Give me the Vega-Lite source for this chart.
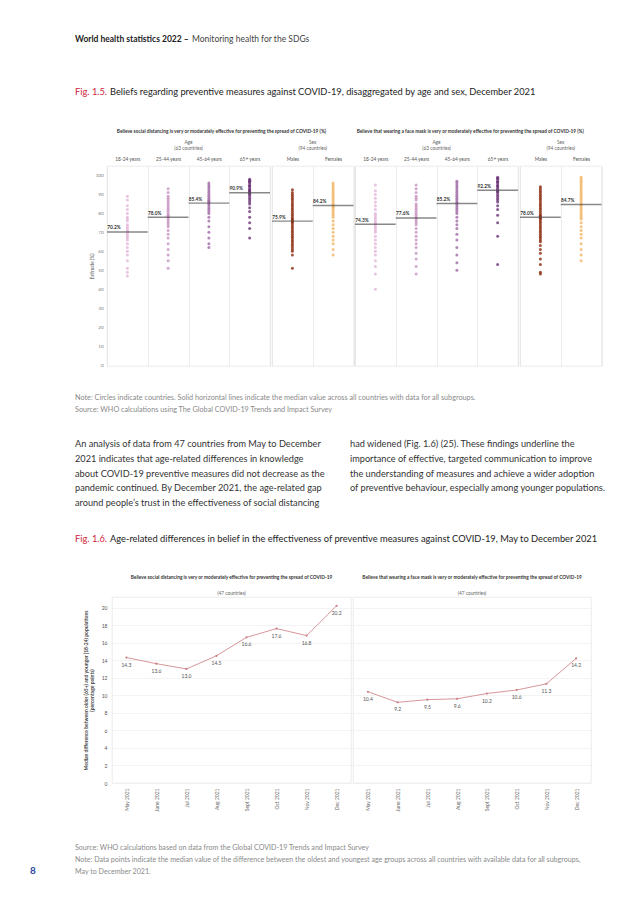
{
"$schema": "https://vega.github.io/schema/vega-lite/v6.json",
"padding": {"left": 30, "top": 35, "right": 10, "bottom": 10},
"background": "white",
"title": {"text": "8", "orient": "bottom", "anchor": "start", "dx": -45, "offset": -10, "fontSize": 10, "fontWeight": "bold", "color": "#2b4aa0"},
"datasets": {
"med": [
{"m":"SD","g":"18-24 years","v":70.2,"lab":"70.2%"},{"m":"SD","g":"25-44 years","v":78.0,"lab":"78.0%"},{"m":"SD","g":"45-64 years","v":85.4,"lab":"85.4%"},{"m":"SD","g":"65+ years","v":90.9,"lab":"90.9%"},{"m":"SD","g":"Males","v":75.9,"lab":"75.9%"},{"m":"SD","g":"Females","v":84.2,"lab":"84.2%"},
{"m":"FM","g":"18-24 years","v":74.3,"lab":"74.3%"},{"m":"FM","g":"25-44 years","v":77.6,"lab":"77.6%"},{"m":"FM","g":"45-64 years","v":85.2,"lab":"85.2%"},{"m":"FM","g":"65+ years","v":92.2,"lab":"92.2%"},{"m":"FM","g":"Males","v":78.0,"lab":"78.0%"},{"m":"FM","g":"Females","v":84.7,"lab":"84.7%"}
],
"trend": [
{"m":"SD","month":"May 2021","v":14.3},{"m":"SD","month":"June 2021","v":13.6},{"m":"SD","month":"Jul 2021","v":13.0},{"m":"SD","month":"Aug 2021","v":14.5},{"m":"SD","month":"Sept 2021","v":16.6},{"m":"SD","month":"Oct 2021","v":17.6},{"m":"SD","month":"Nov 2021","v":16.8},{"m":"SD","month":"Dec 2021","v":20.2},
{"m":"FM","month":"May 2021","v":10.4},{"m":"FM","month":"June 2021","v":9.2},{"m":"FM","month":"Jul 2021","v":9.5},{"m":"FM","month":"Aug 2021","v":9.6},{"m":"FM","month":"Sept 2021","v":10.2},{"m":"FM","month":"Oct 2021","v":10.6},{"m":"FM","month":"Nov 2021","v":11.3},{"m":"FM","month":"Dec 2021","v":14.2}
],
"pts": [
{"m":"SD","g":"18-24 years","v":89},{"m":"SD","g":"18-24 years","v":87},{"m":"SD","g":"18-24 years","v":84},{"m":"SD","g":"18-24 years","v":82},{"m":"SD","g":"18-24 years","v":80},{"m":"SD","g":"18-24 years","v":78},{"m":"SD","g":"18-24 years","v":77},{"m":"SD","g":"18-24 years","v":76},{"m":"SD","g":"18-24 years","v":74},{"m":"SD","g":"18-24 years","v":73},{"m":"SD","g":"18-24 years","v":72},{"m":"SD","g":"18-24 years","v":71},{"m":"SD","g":"18-24 years","v":70.5},{"m":"SD","g":"18-24 years","v":70},{"m":"SD","g":"18-24 years","v":69},{"m":"SD","g":"18-24 years","v":68},{"m":"SD","g":"18-24 years","v":67},{"m":"SD","g":"18-24 years","v":66},{"m":"SD","g":"18-24 years","v":64},{"m":"SD","g":"18-24 years","v":62},{"m":"SD","g":"18-24 years","v":60},{"m":"SD","g":"18-24 years","v":58},{"m":"SD","g":"18-24 years","v":55},{"m":"SD","g":"18-24 years","v":51},{"m":"SD","g":"18-24 years","v":49},{"m":"SD","g":"18-24 years","v":47},
{"m":"SD","g":"25-44 years","v":93},{"m":"SD","g":"25-44 years","v":91},{"m":"SD","g":"25-44 years","v":89},{"m":"SD","g":"25-44 years","v":88},{"m":"SD","g":"25-44 years","v":87},{"m":"SD","g":"25-44 years","v":86},{"m":"SD","g":"25-44 years","v":85},{"m":"SD","g":"25-44 years","v":84},{"m":"SD","g":"25-44 years","v":83},{"m":"SD","g":"25-44 years","v":82},{"m":"SD","g":"25-44 years","v":81},{"m":"SD","g":"25-44 years","v":80},{"m":"SD","g":"25-44 years","v":79},{"m":"SD","g":"25-44 years","v":78.5},{"m":"SD","g":"25-44 years","v":78},{"m":"SD","g":"25-44 years","v":77},{"m":"SD","g":"25-44 years","v":76},{"m":"SD","g":"25-44 years","v":75},{"m":"SD","g":"25-44 years","v":74},{"m":"SD","g":"25-44 years","v":73},{"m":"SD","g":"25-44 years","v":71},{"m":"SD","g":"25-44 years","v":69},{"m":"SD","g":"25-44 years","v":67},{"m":"SD","g":"25-44 years","v":64},{"m":"SD","g":"25-44 years","v":61},{"m":"SD","g":"25-44 years","v":58},{"m":"SD","g":"25-44 years","v":55},{"m":"SD","g":"25-44 years","v":51},
{"m":"SD","g":"45-64 years","v":96},{"m":"SD","g":"45-64 years","v":95},{"m":"SD","g":"45-64 years","v":94},{"m":"SD","g":"45-64 years","v":93},{"m":"SD","g":"45-64 years","v":92},{"m":"SD","g":"45-64 years","v":91},{"m":"SD","g":"45-64 years","v":90},{"m":"SD","g":"45-64 years","v":89},{"m":"SD","g":"45-64 years","v":88},{"m":"SD","g":"45-64 years","v":87},{"m":"SD","g":"45-64 years","v":86.5},{"m":"SD","g":"45-64 years","v":86},{"m":"SD","g":"45-64 years","v":85.5},{"m":"SD","g":"45-64 years","v":85},{"m":"SD","g":"45-64 years","v":84},{"m":"SD","g":"45-64 years","v":83},{"m":"SD","g":"45-64 years","v":82},{"m":"SD","g":"45-64 years","v":81},{"m":"SD","g":"45-64 years","v":80},{"m":"SD","g":"45-64 years","v":78},{"m":"SD","g":"45-64 years","v":76},{"m":"SD","g":"45-64 years","v":73},{"m":"SD","g":"45-64 years","v":70},{"m":"SD","g":"45-64 years","v":67},{"m":"SD","g":"45-64 years","v":64},{"m":"SD","g":"45-64 years","v":62},
{"m":"SD","g":"65+ years","v":98},{"m":"SD","g":"65+ years","v":97.5},{"m":"SD","g":"65+ years","v":97},{"m":"SD","g":"65+ years","v":96.5},{"m":"SD","g":"65+ years","v":96},{"m":"SD","g":"65+ years","v":95},{"m":"SD","g":"65+ years","v":94.5},{"m":"SD","g":"65+ years","v":94},{"m":"SD","g":"65+ years","v":93},{"m":"SD","g":"65+ years","v":92.5},{"m":"SD","g":"65+ years","v":92},{"m":"SD","g":"65+ years","v":91.5},{"m":"SD","g":"65+ years","v":91},{"m":"SD","g":"65+ years","v":90.5},{"m":"SD","g":"65+ years","v":90},{"m":"SD","g":"65+ years","v":89},{"m":"SD","g":"65+ years","v":88},{"m":"SD","g":"65+ years","v":87},{"m":"SD","g":"65+ years","v":86},{"m":"SD","g":"65+ years","v":85},{"m":"SD","g":"65+ years","v":83},{"m":"SD","g":"65+ years","v":81},{"m":"SD","g":"65+ years","v":78},{"m":"SD","g":"65+ years","v":75},{"m":"SD","g":"65+ years","v":72},{"m":"SD","g":"65+ years","v":67},
{"m":"SD","g":"Males","v":92.5},{"m":"SD","g":"Males","v":91},{"m":"SD","g":"Males","v":90},{"m":"SD","g":"Males","v":89},{"m":"SD","g":"Males","v":88},{"m":"SD","g":"Males","v":87},{"m":"SD","g":"Males","v":86},{"m":"SD","g":"Males","v":85},{"m":"SD","g":"Males","v":84},{"m":"SD","g":"Males","v":83},{"m":"SD","g":"Males","v":82},{"m":"SD","g":"Males","v":81},{"m":"SD","g":"Males","v":80},{"m":"SD","g":"Males","v":79},{"m":"SD","g":"Males","v":78},{"m":"SD","g":"Males","v":77},{"m":"SD","g":"Males","v":76.5},{"m":"SD","g":"Males","v":76},{"m":"SD","g":"Males","v":75.5},{"m":"SD","g":"Males","v":75},{"m":"SD","g":"Males","v":74},{"m":"SD","g":"Males","v":73},{"m":"SD","g":"Males","v":72},{"m":"SD","g":"Males","v":71},{"m":"SD","g":"Males","v":70},{"m":"SD","g":"Males","v":69},{"m":"SD","g":"Males","v":68},{"m":"SD","g":"Males","v":67},{"m":"SD","g":"Males","v":66},{"m":"SD","g":"Males","v":65},{"m":"SD","g":"Males","v":64},{"m":"SD","g":"Males","v":63},{"m":"SD","g":"Males","v":62},{"m":"SD","g":"Males","v":61},{"m":"SD","g":"Males","v":60},{"m":"SD","g":"Males","v":58},{"m":"SD","g":"Males","v":51},
{"m":"SD","g":"Females","v":96},{"m":"SD","g":"Females","v":95},{"m":"SD","g":"Females","v":94},{"m":"SD","g":"Females","v":93},{"m":"SD","g":"Females","v":92},{"m":"SD","g":"Females","v":91},{"m":"SD","g":"Females","v":90},{"m":"SD","g":"Females","v":89},{"m":"SD","g":"Females","v":88},{"m":"SD","g":"Females","v":87},{"m":"SD","g":"Females","v":86},{"m":"SD","g":"Females","v":85},{"m":"SD","g":"Females","v":84.5},{"m":"SD","g":"Females","v":84},{"m":"SD","g":"Females","v":83.5},{"m":"SD","g":"Females","v":83},{"m":"SD","g":"Females","v":82},{"m":"SD","g":"Females","v":81},{"m":"SD","g":"Females","v":80},{"m":"SD","g":"Females","v":79},{"m":"SD","g":"Females","v":78},{"m":"SD","g":"Females","v":76},{"m":"SD","g":"Females","v":74},{"m":"SD","g":"Females","v":72},{"m":"SD","g":"Females","v":70},{"m":"SD","g":"Females","v":68},{"m":"SD","g":"Females","v":66},{"m":"SD","g":"Females","v":64},{"m":"SD","g":"Females","v":61},{"m":"SD","g":"Females","v":58},
{"m":"FM","g":"18-24 years","v":95},{"m":"FM","g":"18-24 years","v":92},{"m":"FM","g":"18-24 years","v":90},{"m":"FM","g":"18-24 years","v":88},{"m":"FM","g":"18-24 years","v":86},{"m":"FM","g":"18-24 years","v":84},{"m":"FM","g":"18-24 years","v":82},{"m":"FM","g":"18-24 years","v":80},{"m":"FM","g":"18-24 years","v":79},{"m":"FM","g":"18-24 years","v":78},{"m":"FM","g":"18-24 years","v":77},{"m":"FM","g":"18-24 years","v":76},{"m":"FM","g":"18-24 years","v":75},{"m":"FM","g":"18-24 years","v":74.5},{"m":"FM","g":"18-24 years","v":74},{"m":"FM","g":"18-24 years","v":73},{"m":"FM","g":"18-24 years","v":72},{"m":"FM","g":"18-24 years","v":71},{"m":"FM","g":"18-24 years","v":70},{"m":"FM","g":"18-24 years","v":68},{"m":"FM","g":"18-24 years","v":66},{"m":"FM","g":"18-24 years","v":64},{"m":"FM","g":"18-24 years","v":62},{"m":"FM","g":"18-24 years","v":60},{"m":"FM","g":"18-24 years","v":58},{"m":"FM","g":"18-24 years","v":55},{"m":"FM","g":"18-24 years","v":52},{"m":"FM","g":"18-24 years","v":48},{"m":"FM","g":"18-24 years","v":40},
{"m":"FM","g":"25-44 years","v":95},{"m":"FM","g":"25-44 years","v":93},{"m":"FM","g":"25-44 years","v":91},{"m":"FM","g":"25-44 years","v":89},{"m":"FM","g":"25-44 years","v":88},{"m":"FM","g":"25-44 years","v":87},{"m":"FM","g":"25-44 years","v":85},{"m":"FM","g":"25-44 years","v":84},{"m":"FM","g":"25-44 years","v":83},{"m":"FM","g":"25-44 years","v":82},{"m":"FM","g":"25-44 years","v":81},{"m":"FM","g":"25-44 years","v":80},{"m":"FM","g":"25-44 years","v":79},{"m":"FM","g":"25-44 years","v":78},{"m":"FM","g":"25-44 years","v":77.5},{"m":"FM","g":"25-44 years","v":77},{"m":"FM","g":"25-44 years","v":76},{"m":"FM","g":"25-44 years","v":75},{"m":"FM","g":"25-44 years","v":74},{"m":"FM","g":"25-44 years","v":72},{"m":"FM","g":"25-44 years","v":70},{"m":"FM","g":"25-44 years","v":68},{"m":"FM","g":"25-44 years","v":66},{"m":"FM","g":"25-44 years","v":64},{"m":"FM","g":"25-44 years","v":62},{"m":"FM","g":"25-44 years","v":59},{"m":"FM","g":"25-44 years","v":56},{"m":"FM","g":"25-44 years","v":52},{"m":"FM","g":"25-44 years","v":48},
{"m":"FM","g":"45-64 years","v":97},{"m":"FM","g":"45-64 years","v":96},{"m":"FM","g":"45-64 years","v":95},{"m":"FM","g":"45-64 years","v":94},{"m":"FM","g":"45-64 years","v":93},{"m":"FM","g":"45-64 years","v":92},{"m":"FM","g":"45-64 years","v":91},{"m":"FM","g":"45-64 years","v":90},{"m":"FM","g":"45-64 years","v":89},{"m":"FM","g":"45-64 years","v":88},{"m":"FM","g":"45-64 years","v":87},{"m":"FM","g":"45-64 years","v":86},{"m":"FM","g":"45-64 years","v":85.5},{"m":"FM","g":"45-64 years","v":85},{"m":"FM","g":"45-64 years","v":84},{"m":"FM","g":"45-64 years","v":83},{"m":"FM","g":"45-64 years","v":82},{"m":"FM","g":"45-64 years","v":81},{"m":"FM","g":"45-64 years","v":80},{"m":"FM","g":"45-64 years","v":78},{"m":"FM","g":"45-64 years","v":76},{"m":"FM","g":"45-64 years","v":74},{"m":"FM","g":"45-64 years","v":72},{"m":"FM","g":"45-64 years","v":69},{"m":"FM","g":"45-64 years","v":66},{"m":"FM","g":"45-64 years","v":62},{"m":"FM","g":"45-64 years","v":58},{"m":"FM","g":"45-64 years","v":54},{"m":"FM","g":"45-64 years","v":50},
{"m":"FM","g":"65+ years","v":99},{"m":"FM","g":"65+ years","v":98.5},{"m":"FM","g":"65+ years","v":98},{"m":"FM","g":"65+ years","v":97},{"m":"FM","g":"65+ years","v":96.5},{"m":"FM","g":"65+ years","v":96},{"m":"FM","g":"65+ years","v":95},{"m":"FM","g":"65+ years","v":94.5},{"m":"FM","g":"65+ years","v":94},{"m":"FM","g":"65+ years","v":93},{"m":"FM","g":"65+ years","v":92.5},{"m":"FM","g":"65+ years","v":92},{"m":"FM","g":"65+ years","v":91.5},{"m":"FM","g":"65+ years","v":91},{"m":"FM","g":"65+ years","v":90},{"m":"FM","g":"65+ years","v":89},{"m":"FM","g":"65+ years","v":88},{"m":"FM","g":"65+ years","v":87},{"m":"FM","g":"65+ years","v":86},{"m":"FM","g":"65+ years","v":84},{"m":"FM","g":"65+ years","v":82},{"m":"FM","g":"65+ years","v":79},{"m":"FM","g":"65+ years","v":75},{"m":"FM","g":"65+ years","v":68},{"m":"FM","g":"65+ years","v":53},
{"m":"FM","g":"Males","v":94},{"m":"FM","g":"Males","v":93},{"m":"FM","g":"Males","v":92},{"m":"FM","g":"Males","v":91},{"m":"FM","g":"Males","v":90},{"m":"FM","g":"Males","v":89},{"m":"FM","g":"Males","v":88},{"m":"FM","g":"Males","v":87},{"m":"FM","g":"Males","v":86},{"m":"FM","g":"Males","v":85},{"m":"FM","g":"Males","v":84},{"m":"FM","g":"Males","v":83},{"m":"FM","g":"Males","v":82},{"m":"FM","g":"Males","v":81},{"m":"FM","g":"Males","v":80},{"m":"FM","g":"Males","v":79},{"m":"FM","g":"Males","v":78.5},{"m":"FM","g":"Males","v":78},{"m":"FM","g":"Males","v":77.5},{"m":"FM","g":"Males","v":77},{"m":"FM","g":"Males","v":76},{"m":"FM","g":"Males","v":75},{"m":"FM","g":"Males","v":74},{"m":"FM","g":"Males","v":73},{"m":"FM","g":"Males","v":72},{"m":"FM","g":"Males","v":71},{"m":"FM","g":"Males","v":70},{"m":"FM","g":"Males","v":69},{"m":"FM","g":"Males","v":68},{"m":"FM","g":"Males","v":67},{"m":"FM","g":"Males","v":66},{"m":"FM","g":"Males","v":65},{"m":"FM","g":"Males","v":63},{"m":"FM","g":"Males","v":61},{"m":"FM","g":"Males","v":59},{"m":"FM","g":"Males","v":56},{"m":"FM","g":"Males","v":53},{"m":"FM","g":"Males","v":49},{"m":"FM","g":"Males","v":48},
{"m":"FM","g":"Females","v":99},{"m":"FM","g":"Females","v":98},{"m":"FM","g":"Females","v":97},{"m":"FM","g":"Females","v":96},{"m":"FM","g":"Females","v":95},{"m":"FM","g":"Females","v":94},{"m":"FM","g":"Females","v":93},{"m":"FM","g":"Females","v":92},{"m":"FM","g":"Females","v":91},{"m":"FM","g":"Females","v":90},{"m":"FM","g":"Females","v":89},{"m":"FM","g":"Females","v":88},{"m":"FM","g":"Females","v":87},{"m":"FM","g":"Females","v":86},{"m":"FM","g":"Females","v":85},{"m":"FM","g":"Females","v":84.5},{"m":"FM","g":"Females","v":84},{"m":"FM","g":"Females","v":83},{"m":"FM","g":"Females","v":82},{"m":"FM","g":"Females","v":81},{"m":"FM","g":"Females","v":80},{"m":"FM","g":"Females","v":79},{"m":"FM","g":"Females","v":78},{"m":"FM","g":"Females","v":77},{"m":"FM","g":"Females","v":75},{"m":"FM","g":"Females","v":73},{"m":"FM","g":"Females","v":71},{"m":"FM","g":"Females","v":69},{"m":"FM","g":"Females","v":67},{"m":"FM","g":"Females","v":64},{"m":"FM","g":"Females","v":61},{"m":"FM","g":"Females","v":58},{"m":"FM","g":"Females","v":55}
]
},
"vconcat": [{
"title": {"text": "World health statistics 2022 –", "anchor": "start", "fontSize": 8.5, "fontWeight": "bold", "color": "#222", "offset": -8.5},
"vconcat": [{
"title": {"text": "Monitoring health for the SDGs", "anchor": "start", "dx": 117, "fontSize": 8.5, "fontWeight": "normal", "color": "#444", "offset": 44},
"spacing": 14,
"vconcat": [
{
"spacing": 26,
"vconcat": [
{
"title": {"text": "Fig. 1.5.", "anchor": "start", "fontSize": 9.3, "fontWeight": "normal", "color": "#cf2338", "offset": -9.3},
"vconcat": [{
"title": {"text": "Beliefs regarding preventive measures against COVID-19, disaggregated by age and sex, December 2021", "anchor": "start", "dx": 35, "fontSize": 9.3, "fontWeight": "normal", "color": "#222", "offset": 32},
"vconcat": [{
"title": {"text": ["Note: Circles indicate countries. Solid horizontal lines indicate the median value across all countries with data for all subgroups.", "Source: WHO calculations using The Global COVID-19 Trends and Impact Survey"], "orient": "bottom", "anchor": "start", "fontSize": 7.25, "fontWeight": "normal", "color": "#8a8a8a", "lineHeight": 12.4, "offset": 27},
"spacing": 0,
"hconcat": [
{"width": 13, "height": 1, "view": {"stroke": null}, "data": {"values": [{"t": ""}]}, "mark": "text", "encoding": {"text": {"field": "t"}}},
{
"title": {"text": "Believe social distancing is very or moderately effective for preventing the spread of COVID-19 (%)", "fontSize": 4.8, "fontWeight": "bold", "color": "#333", "dx": 28, "offset": 6},
"spacing": 0,
"hconcat": [
{
"width": 163, "height": 200,
"title": {"text": ["Age", "(63 countries)"], "fontSize": 4.8, "fontWeight": "normal", "color": "#666", "lineHeight": 6, "frame": "group", "offset": 5},
"encoding": {
"x": {"field": "g", "type": "nominal", "scale": {"domain": ["18-24 years", "25-44 years", "45-64 years", "65+ years"], "paddingInner": 0, "paddingOuter": 0}, "axis": {"orient": "top", "title": null, "labelAngle": 0, "labelFontSize": 4.8, "labelColor": "#555", "labelPadding": 5, "grid": true, "tickBand": "extent", "gridColor": "#e4e4e4", "gridWidth": 0.7}},
"y": {"field": "v", "type": "quantitative", "scale": {"domain": [-0.5, 105], "nice": false, "zero": false}, "axis": {"values": [0, 10, 20, 30, 40, 50, 60, 70, 80, 90, 100], "grid": false, "labelFontSize": 4.5, "labelColor": "#777", "labelPadding": 4, "title": "Estimate (%)", "titleFontSize": 4.8, "titleFontWeight": "normal", "titleColor": "#555", "titlePadding": 1}}
},
"layer": [
{"data": {"name": "pts"}, "transform": [{"filter": {"field": "m", "equal": "SD"}}, {"filter": {"field": "g", "oneOf": ["18-24 years", "25-44 years", "45-64 years", "65+ years"]}}], "mark": {"type": "circle", "size": 9, "opacity": 0.8}, "encoding": {"color": {"field": "g", "type": "nominal", "legend": null, "scale": {"domain": ["18-24 years", "25-44 years", "45-64 years", "65+ years", "Males", "Females"], "range": ["#e3b5d9", "#c794c2", "#a06aa6", "#6b3577", "#8b2b0e", "#f3b565"]}}}},
{"data": {"name": "med"}, "transform": [{"filter": {"field": "m", "equal": "SD"}}, {"filter": {"field": "g", "oneOf": ["18-24 years", "25-44 years", "45-64 years", "65+ years"]}}], "mark": {"type": "tick", "size": 40.75, "thickness": 1.4, "color": "#555"}},
{"data": {"name": "med"}, "transform": [{"filter": {"field": "m", "equal": "SD"}}, {"filter": {"field": "g", "oneOf": ["18-24 years", "25-44 years", "45-64 years", "65+ years"]}}], "mark": {"type": "text", "align": "left", "baseline": "bottom", "dx": -20.2, "dy": -1.5, "fontSize": 4.8, "fontWeight": "bold", "color": "#333"}, "encoding": {"text": {"field": "lab"}}}
]
},
{
"width": 81.5, "height": 200,
"title": {"text": ["Sex", "(94 countries)"], "fontSize": 4.8, "fontWeight": "normal", "color": "#666", "lineHeight": 6, "frame": "group", "offset": 5},
"encoding": {
"x": {"field": "g", "type": "nominal", "scale": {"domain": ["Males", "Females"], "paddingInner": 0, "paddingOuter": 0}, "axis": {"orient": "top", "title": null, "labelAngle": 0, "labelFontSize": 4.8, "labelColor": "#555", "labelPadding": 5, "grid": true, "tickBand": "extent", "gridColor": "#e4e4e4", "gridWidth": 0.7}},
"y": {"field": "v", "type": "quantitative", "scale": {"domain": [-0.5, 105], "nice": false, "zero": false}, "axis": null}
},
"layer": [
{"data": {"name": "pts"}, "transform": [{"filter": {"field": "m", "equal": "SD"}}, {"filter": {"field": "g", "oneOf": ["Males", "Females"]}}], "mark": {"type": "circle", "size": 9, "opacity": 0.8}, "encoding": {"color": {"field": "g", "type": "nominal", "legend": null, "scale": {"domain": ["18-24 years", "25-44 years", "45-64 years", "65+ years", "Males", "Females"], "range": ["#e3b5d9", "#c794c2", "#a06aa6", "#6b3577", "#8b2b0e", "#f3b565"]}}}},
{"data": {"name": "med"}, "transform": [{"filter": {"field": "m", "equal": "SD"}}, {"filter": {"field": "g", "oneOf": ["Males", "Females"]}}], "mark": {"type": "tick", "size": 40.75, "thickness": 1.4, "color": "#555"}},
{"data": {"name": "med"}, "transform": [{"filter": {"field": "m", "equal": "SD"}}, {"filter": {"field": "g", "oneOf": ["Males", "Females"]}}], "mark": {"type": "text", "align": "left", "baseline": "bottom", "dx": -20.2, "dy": -1.5, "fontSize": 4.8, "fontWeight": "bold", "color": "#333"}, "encoding": {"text": {"field": "lab"}}}
]
}
]
},
{
"title": {"text": "Believe that wearing a face mask is very or moderately effective for preventing the spread of COVID-19 (%)", "fontSize": 4.8, "fontWeight": "bold", "color": "#333", "dx": 2, "offset": 6},
"spacing": 0,
"hconcat": [
{
"width": 163, "height": 200,
"title": {"text": ["Age", "(63 countries)"], "fontSize": 4.8, "fontWeight": "normal", "color": "#666", "lineHeight": 6, "frame": "group", "offset": 5},
"encoding": {
"x": {"field": "g", "type": "nominal", "scale": {"domain": ["18-24 years", "25-44 years", "45-64 years", "65+ years"], "paddingInner": 0, "paddingOuter": 0}, "axis": {"orient": "top", "title": null, "labelAngle": 0, "labelFontSize": 4.8, "labelColor": "#555", "labelPadding": 5, "grid": true, "tickBand": "extent", "gridColor": "#e4e4e4", "gridWidth": 0.7}},
"y": {"field": "v", "type": "quantitative", "scale": {"domain": [-0.5, 105], "nice": false, "zero": false}, "axis": null}
},
"layer": [
{"data": {"name": "pts"}, "transform": [{"filter": {"field": "m", "equal": "FM"}}, {"filter": {"field": "g", "oneOf": ["18-24 years", "25-44 years", "45-64 years", "65+ years"]}}], "mark": {"type": "circle", "size": 9, "opacity": 0.8}, "encoding": {"color": {"field": "g", "type": "nominal", "legend": null, "scale": {"domain": ["18-24 years", "25-44 years", "45-64 years", "65+ years", "Males", "Females"], "range": ["#e3b5d9", "#c794c2", "#a06aa6", "#6b3577", "#8b2b0e", "#f3b565"]}}}},
{"data": {"name": "med"}, "transform": [{"filter": {"field": "m", "equal": "FM"}}, {"filter": {"field": "g", "oneOf": ["18-24 years", "25-44 years", "45-64 years", "65+ years"]}}], "mark": {"type": "tick", "size": 40.75, "thickness": 1.4, "color": "#555"}},
{"data": {"name": "med"}, "transform": [{"filter": {"field": "m", "equal": "FM"}}, {"filter": {"field": "g", "oneOf": ["18-24 years", "25-44 years", "45-64 years", "65+ years"]}}], "mark": {"type": "text", "align": "left", "baseline": "bottom", "dx": -20.2, "dy": -1.5, "fontSize": 4.8, "fontWeight": "bold", "color": "#333"}, "encoding": {"text": {"field": "lab"}}}
]
},
{
"width": 81.5, "height": 200,
"title": {"text": ["Sex", "(94 countries)"], "fontSize": 4.8, "fontWeight": "normal", "color": "#666", "lineHeight": 6, "frame": "group", "offset": 5},
"encoding": {
"x": {"field": "g", "type": "nominal", "scale": {"domain": ["Males", "Females"], "paddingInner": 0, "paddingOuter": 0}, "axis": {"orient": "top", "title": null, "labelAngle": 0, "labelFontSize": 4.8, "labelColor": "#555", "labelPadding": 5, "grid": true, "tickBand": "extent", "gridColor": "#e4e4e4", "gridWidth": 0.7}},
"y": {"field": "v", "type": "quantitative", "scale": {"domain": [-0.5, 105], "nice": false, "zero": false}, "axis": null}
},
"layer": [
{"data": {"name": "pts"}, "transform": [{"filter": {"field": "m", "equal": "FM"}}, {"filter": {"field": "g", "oneOf": ["Males", "Females"]}}], "mark": {"type": "circle", "size": 9, "opacity": 0.8}, "encoding": {"color": {"field": "g", "type": "nominal", "legend": null, "scale": {"domain": ["18-24 years", "25-44 years", "45-64 years", "65+ years", "Males", "Females"], "range": ["#e3b5d9", "#c794c2", "#a06aa6", "#6b3577", "#8b2b0e", "#f3b565"]}}}},
{"data": {"name": "med"}, "transform": [{"filter": {"field": "m", "equal": "FM"}}, {"filter": {"field": "g", "oneOf": ["Males", "Females"]}}], "mark": {"type": "tick", "size": 40.75, "thickness": 1.4, "color": "#555"}},
{"data": {"name": "med"}, "transform": [{"filter": {"field": "m", "equal": "FM"}}, {"filter": {"field": "g", "oneOf": ["Males", "Females"]}}], "mark": {"type": "text", "align": "left", "baseline": "bottom", "dx": -20.2, "dy": -1.5, "fontSize": 4.8, "fontWeight": "bold", "color": "#333"}, "encoding": {"text": {"field": "lab"}}}
]
}
]
}
]
}]
}]
},
{
"spacing": 25,
"hconcat": [
{"width": 246, "height": 1, "view": {"stroke": null}, "data": {"values": [{"t": ""}]}, "mark": "text", "encoding": {"text": {"field": "t"}},
"title": {"text": ["An analysis of data from 47 countries from May to December", "2021 indicates that age-related differences in knowledge", "about COVID-19 preventive measures did not decrease as the", "pandemic continued. By December 2021, the age-related gap", "around people’s trust in the effectiveness of social distancing"], "anchor": "start", "frame": "group", "fontSize": 9.2, "fontWeight": "normal", "color": "#333", "lineHeight": 14.8, "offset": 0}},
{"width": 246, "height": 1, "view": {"stroke": null}, "data": {"values": [{"t": ""}]}, "mark": "text", "encoding": {"text": {"field": "t"}},
"title": {"text": ["had widened (Fig. 1.6) (25). These findings underline the", "importance of effective, targeted communication to improve", "the understanding of measures and achieve a wider adoption", "of preventive behaviour, especially among younger populations.", " "], "anchor": "start", "frame": "group", "fontSize": 9.2, "fontWeight": "normal", "color": "#333", "lineHeight": 14.8, "offset": 0}}
]
}
]
},
{
"title": {"text": "Fig. 1.6.", "anchor": "start", "fontSize": 9.3, "fontWeight": "normal", "color": "#cf2338", "offset": -9.3},
"vconcat": [{
"title": {"text": "Age-related differences in belief in the effectiveness of preventive measures against COVID-19, May to December 2021", "anchor": "start", "dx": 35, "fontSize": 9.3, "fontWeight": "normal", "color": "#222", "offset": 31},
"vconcat": [{
"title": {"text": ["Source: WHO calculations based on data from the Global COVID-19 Trends and Impact Survey", "Note: Data points indicate the median value of the difference between the oldest and youngest age groups across all countries with available data for all subgroups,", "May to December 2021."], "orient": "bottom", "anchor": "start", "fontSize": 7.1, "fontWeight": "normal", "color": "#8a8a8a", "lineHeight": 12, "offset": 33},
"spacing": 0,
"hconcat": [
{"width": 7, "height": 1, "view": {"stroke": null}, "data": {"values": [{"t": ""}]}, "mark": "text", "encoding": {"text": {"field": "t"}}},
{
"width": 239, "height": 186,
"title": {"text": "Believe social distancing is very or moderately effective for preventing the spread of COVID-19", "subtitle": "(47 countries)", "fontSize": 4.8, "fontWeight": "bold", "color": "#333", "subtitleFontSize": 4.8, "subtitleColor": "#666", "subtitlePadding": 11, "frame": "group", "offset": 1},
"data": {"name": "trend"},
"transform": [{"filter": {"field": "m", "equal": "SD"}}],
"encoding": {
"x": {"field": "month", "type": "ordinal", "scale": {"type": "point", "domain": ["May 2021", "June 2021", "Jul 2021", "Aug 2021", "Sept 2021", "Oct 2021", "Nov 2021", "Dec 2021"], "padding": 0.48}, "axis": {"title": null, "labelAngle": -90, "labelFontSize": 5, "labelColor": "#666", "labelPadding": 5, "grid": false}},
"y": {"field": "v", "type": "quantitative", "scale": {"domain": [0, 21.2], "nice": false}, "axis": {"values": [0, 2, 4, 6, 8, 10, 12, 14, 16, 18, 20], "grid": true, "gridColor": "#eeeeee", "gridWidth": 0.7, "labelFontSize": 5, "labelColor": "#555", "labelPadding": 5, "title": ["Median difference between older (65+) and younger (18-24) populations", "(percentage points)"], "titleFontSize": 5, "titleFontWeight": "bold", "titleColor": "#444", "titleLineHeight": 6, "titlePadding": 7}}
},
"layer": [
{"mark": {"type": "line", "color": "#d8979a", "strokeWidth": 1}},
{"mark": {"type": "circle", "color": "#c97f84", "size": 5, "opacity": 1}},
{"mark": {"type": "text", "dy": 7, "fontSize": 5, "color": "#555"}, "encoding": {"text": {"field": "v", "type": "quantitative", "format": ".1f"}}}
]
},
{
"width": 238, "height": 186,
"title": {"text": "Believe that wearing a face mask is very or moderately effective for preventing the spread of COVID-19", "subtitle": "(47 countries)", "fontSize": 4.8, "fontWeight": "bold", "color": "#333", "subtitleFontSize": 4.8, "subtitleColor": "#666", "subtitlePadding": 11, "frame": "group", "offset": 1},
"data": {"name": "trend"},
"transform": [{"filter": {"field": "m", "equal": "FM"}}],
"encoding": {
"x": {"field": "month", "type": "ordinal", "scale": {"type": "point", "domain": ["May 2021", "June 2021", "Jul 2021", "Aug 2021", "Sept 2021", "Oct 2021", "Nov 2021", "Dec 2021"], "padding": 0.5}, "axis": {"title": null, "labelAngle": -90, "labelFontSize": 5, "labelColor": "#666", "labelPadding": 5, "grid": false}},
"y": {"field": "v", "type": "quantitative", "scale": {"domain": [0, 21.2], "nice": false}, "axis": {"values": [0, 2, 4, 6, 8, 10, 12, 14, 16, 18, 20], "grid": true, "gridColor": "#eeeeee", "gridWidth": 0.7, "labels": false, "title": null}}
},
"layer": [
{"mark": {"type": "line", "color": "#d8979a", "strokeWidth": 1}},
{"mark": {"type": "circle", "color": "#c97f84", "size": 5, "opacity": 1}},
{"mark": {"type": "text", "dy": 7, "fontSize": 5, "color": "#555"}, "encoding": {"text": {"field": "v", "type": "quantitative", "format": ".1f"}}}
]
}
]
}]
}]
}
]
}]
}],
"config": {
"font": "Lato",
"view": {"stroke": "#e4e4e4", "strokeWidth": 0.7},
"axis": {"domain": false, "ticks": false, "labelFont": "Lato", "titleFont": "Lato"},
"title": {"font": "Lato", "subtitleFont": "Lato"},
"mark": {"font": "Lato"}
}
}
